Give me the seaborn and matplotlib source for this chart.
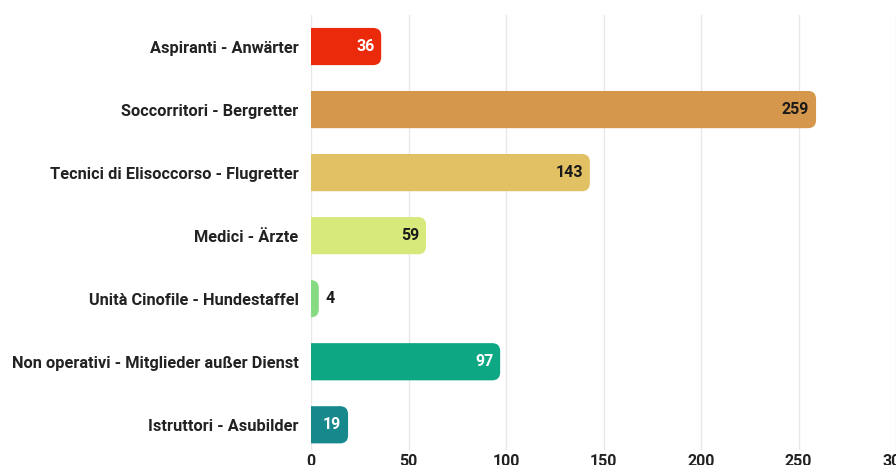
import matplotlib
matplotlib.use("Agg")
import matplotlib.pyplot as plt
from matplotlib.patches import FancyBboxPatch
import pandas as pd
import seaborn as sns

categories = [
    "Aspiranti - Anwärter",
    "Soccorritori - Bergretter",
    "Tecnici di Elisoccorso - Flugretter",
    "Medici - Ärzte",
    "Unità Cinofile - Hundestaffel",
    "Non operativi - Mitglieder außer Dienst",
    "Istruttori - Asubilder",
]
members = [36, 259, 143, 59, 4, 97, 19]
colors = ["#EB2A0B", "#D5974B", "#E2C064", "#D8E97B", "#86DA82", "#0DA784", "#17898C"]
label_colors = ["white", "#1a1a1a", "#1a1a1a", "#1a1a1a", "#1a1a1a", "white", "white"]
x_ticks = [0, 50, 100, 150, 200, 250, 300]

df = pd.DataFrame({"category": categories, "members": members})

sns.set_style("white")
plt.rcParams["font.family"] = ["Roboto", "DejaVu Sans"]

fig = plt.figure(figsize=(8.96, 4.65), dpi=100)
ax = fig.add_axes([311 / 896, 15 / 465, 585 / 896, 435 / 465])

sns.barplot(data=df, x="members", y="category", hue="category", palette=colors,
            legend=False, width=0.59, ax=ax, zorder=2)

# swap the plain bars for ones with rounded ends
r_px = 8
px_per_x = 585 / 300
px_per_y = 63
for bar, col in zip(list(ax.patches), colors):
    x0, y0 = bar.get_x(), bar.get_y()
    w, h = bar.get_width(), bar.get_height()
    bar.remove()
    pad_x = r_px / px_per_x
    rounded = FancyBboxPatch((x0 - pad_x, y0), w + pad_x, h,
                             boxstyle=f"round,pad=0,rounding_size={pad_x}",
                             mutation_aspect=px_per_x / px_per_y,
                             facecolor=col, edgecolor="none", zorder=2)
    ax.add_patch(rounded)

for i, (v, tc) in enumerate(zip(members, label_colors)):
    if v < 15:
        ax.text(v + 3.5, i, str(v), ha="left", va="center", fontsize=11.5,
                fontweight="bold", color="#1a1a1a")
    else:
        ax.text(v - 3.5, i, str(v), ha="right", va="center", fontsize=11.5,
                fontweight="bold", color=tc)

ax.set_xlim(0, 300)
ax.set_ylim(6.4, -0.5)
ax.set_xticks(x_ticks)
ax.set_xticklabels([str(t) for t in x_ticks], fontsize=11.5, fontweight="bold", color="#222222")
ax.set_yticks(range(len(categories)))
ax.set_yticklabels(categories, fontsize=11.8, fontweight="bold", color="#222222")
ax.tick_params(axis="both", length=0)
ax.tick_params(axis="y", pad=9)
ax.tick_params(axis="x", pad=3)
ax.set_xlabel("")
ax.set_ylabel("")
ax.grid(axis="x", color="#e8e8e8", linewidth=1, zorder=0)
ax.set_axisbelow(True)
sns.despine(ax=ax, left=True, bottom=True)

fig.savefig("out.png", dpi=100)
